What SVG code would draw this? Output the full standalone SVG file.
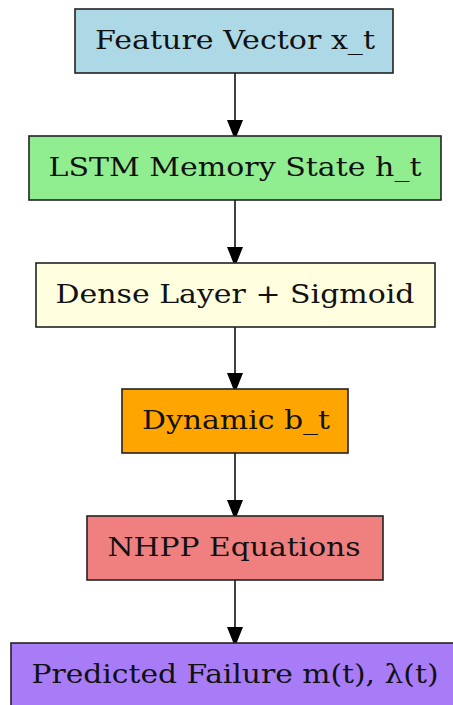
<svg xmlns="http://www.w3.org/2000/svg" width="453" height="705" viewBox="0 0 453 705">
<defs>
<marker id="ah" viewBox="0 0 16 20" refX="16" refY="8" markerWidth="16" markerHeight="20" markerUnits="userSpaceOnUse" orient="auto">
<path d="M0,0 L20,8 L0,16 Z" fill="#000"/>
</marker>
<style>
.box{stroke:#222;stroke-width:1.6}
.lbl{font-family:"DejaVu Serif","Liberation Serif",serif;font-size:26px;fill:#111;text-anchor:middle}
.edge{stroke:#111;stroke-width:1.6;fill:none}
</style>
</defs>
<rect width="453" height="705" fill="#fff"/>
<g id="connectors">
<line class="edge" x1="235" y1="73" x2="235" y2="136" marker-end="url(#ah)"/>
<line class="edge" x1="235" y1="200" x2="235" y2="263" marker-end="url(#ah)"/>
<line class="edge" x1="235" y1="327" x2="235" y2="389" marker-end="url(#ah)"/>
<line class="edge" x1="235" y1="453" x2="235" y2="516" marker-end="url(#ah)"/>
<line class="edge" x1="235" y1="580" x2="235" y2="643" marker-end="url(#ah)"/>
</g>
<g id="feature">
<rect class="box" x="75" y="9" width="318" height="64" fill="#add8e6"/>
<text class="lbl" x="235" y="49" textLength="280" lengthAdjust="spacingAndGlyphs">Feature Vector x_t</text>
</g>
<g id="lstm">
<rect class="box" x="29" y="136" width="412" height="64" fill="#90ee90"/>
<text class="lbl" x="235" y="176" textLength="373" lengthAdjust="spacingAndGlyphs">LSTM Memory State h_t</text>
</g>
<g id="dense">
<rect class="box" x="36" y="263" width="399" height="64" fill="#ffffe0"/>
<text class="lbl" x="235" y="303" textLength="359" lengthAdjust="spacingAndGlyphs">Dense Layer + Sigmoid</text>
</g>
<g id="dynamic">
<rect class="box" x="122" y="389" width="226" height="64" fill="#ffa500"/>
<text class="lbl" x="236" y="429" textLength="188" lengthAdjust="spacingAndGlyphs">Dynamic b_t</text>
</g>
<g id="nhpp">
<rect class="box" x="87" y="516" width="296" height="64" fill="#f08080"/>
<text class="lbl" x="234" y="556" textLength="253" lengthAdjust="spacingAndGlyphs">NHPP Equations</text>
</g>
<g id="predicted">
<rect class="box" x="11" y="643" width="450" height="66" fill="#a87cf7"/>
<text class="lbl" x="235" y="683" textLength="407" lengthAdjust="spacingAndGlyphs">Predicted Failure m(t), λ(t)</text>
</g>
</svg>
